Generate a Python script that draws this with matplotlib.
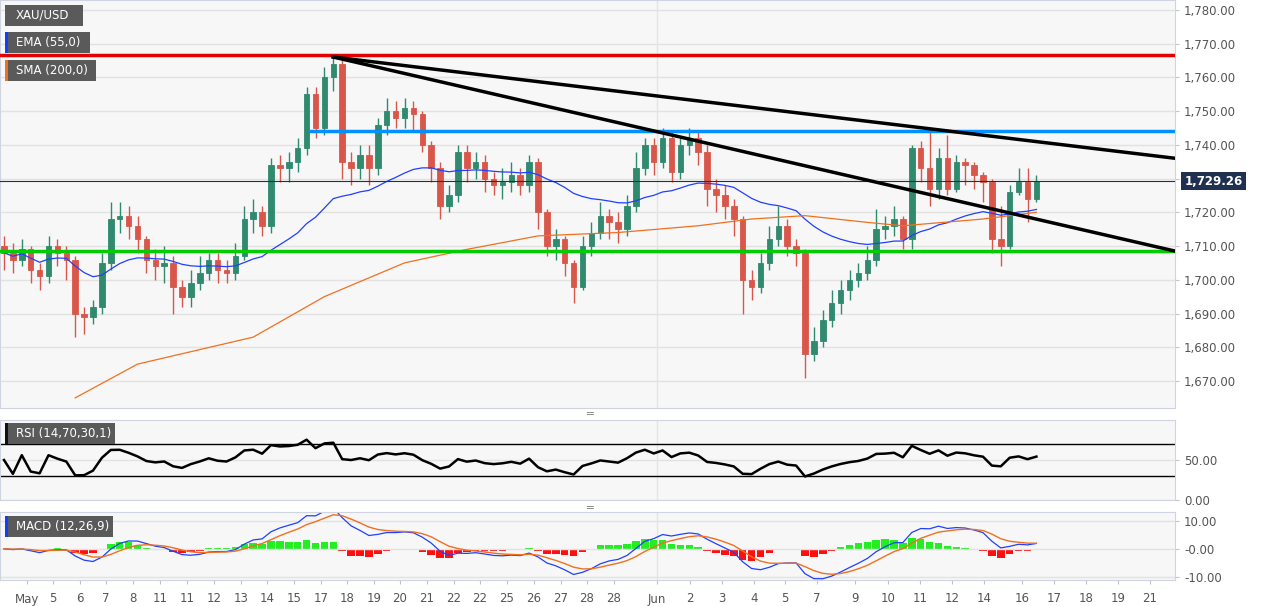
import matplotlib
matplotlib.use("Agg")
import matplotlib.pyplot as plt
import numpy as np
import pandas as pd
from matplotlib.ticker import FuncFormatter

first_open = 1710
closes = [1708,1706,1709,1703,1701,1710,1708,1706,1690,1689,1692,1705,1718,1719,1716,1712,1706,1704,1705,1698,
          1695,1699,1702,1706,1703,1702,1707,1718,1720,1716,1734,1733,1735,1739,1755,1745,1760,1764,1735,1733,
          1737,1733,1746,1750,1748,1751,1749,1740,1733,1722,1725,1738,1733,1735,1730,1728,1729,1731,1728,1735,
          1720,1710,1712,1705,1698,1710,1714,1719,1717,1715,1722,1733,1740,1735,1742,1732,1740,1742,1738,1727,
          1725,1722,1718,1700,1698,1705,1712,1716,1710,1708,1678,1682,1688,1693,1697,1700,1702,1706,1715,1716,
          1718,1712,1739,1733,1727,1736,1727,1735,1734,1731,1729,1712,1710,1726,1729,1724,1729.26]
highs = [1713,1711,1712,1710,1705,1713,1712,1710,1707,1692,1694,1708,1723,1723,1722,1719,1713,1709,1710,1707,
         1700,1703,1707,1708,1708,1706,1711,1722,1724,1722,1736,1737,1738,1742,1757,1757,1763,1766,1765,1738,
         1740,1740,1748,1754,1753,1754,1753,1750,1741,1735,1728,1740,1740,1738,1737,1732,1733,1735,1733,1737,
         1736,1721,1715,1713,1706,1713,1717,1723,1721,1720,1725,1738,1742,1742,1745,1744,1742,1745,1744,1740,
         1730,1728,1724,1719,1703,1708,1716,1722,1718,1712,1709,1686,1691,1697,1700,1703,1705,1710,1721,1719,
         1722,1719,1740,1741,1744,1739,1743,1737,1736,1735,1732,1730,1722,1728,1733,1733,1731]
lows = [1703,1702,1704,1699,1697,1699,1704,1700,1683,1684,1687,1690,1703,1714,1712,1708,1702,1700,1699,1690,
        1692,1692,1697,1700,1699,1699,1700,1706,1714,1713,1714,1729,1729,1732,1737,1742,1743,1756,1730,1728,
        1730,1728,1731,1743,1745,1745,1744,1738,1729,1718,1720,1723,1729,1730,1726,1725,1724,1726,1725,1726,
        1715,1707,1706,1701,1693,1697,1707,1712,1712,1711,1713,1720,1731,1731,1733,1729,1730,1737,1734,1722,
        1720,1718,1713,1690,1694,1696,1703,1710,1707,1704,1671,1676,1680,1686,1690,1694,1698,1700,1704,1712,
        1713,1709,1709,1729,1722,1724,1725,1726,1728,1727,1723,1708,1704,1709,1725,1717,1723]
sma_idx = [8, 15, 28, 36, 45, 52, 60, 69, 78, 84, 90, 97, 101, 110, 116]
sma_vals = [1665, 1675, 1683, 1695, 1705, 1709, 1713, 1714, 1716, 1718, 1719, 1717, 1716, 1718, 1720]
xtick_labels = ["May","5","6","7","8","11","11","12","13","14","15","17","18","19","20","21","22","22","25","26",
                "27","28","28","Jun","2","3","4","5","7","9","10","11","12","14","16","17","18","19","21"]
xtick_px = [27,53,80,106,133,160,187,214,241,267,294,321,347,374,400,427,454,480,507,534,561,587,614,
            657,690,722,754,785,817,855,888,920,952,984,1022,1054,1086,1118,1150]
price_levels = {"resistance": 1766.5, "mid": 1744.2, "support": 1708.5}
last_price = 1729.26

W, H = 1269, 606
SP, X0 = 8.9, 4.0
def px2i(p): return (p - X0) / SP

closes = np.array(closes, float)
opens = np.concatenate([[first_open], closes[:-1]])
idx = np.arange(len(closes))
s = pd.Series(closes)
ema = s.ewm(span=33, adjust=True).mean()
d = s.diff().fillna(0)
up = d.clip(lower=0).ewm(alpha=1/9, adjust=True).mean() + 1.0
dn = (-d.clip(upper=0)).ewm(alpha=1/9, adjust=True).mean() + 1.0
rsi = 100 - 100/(1+up/dn)
macd = s.ewm(span=7, adjust=False).mean() - s.ewm(span=16, adjust=False).mean()
sig = macd.ewm(span=5, adjust=False).mean()
hist = macd - sig

fig = plt.figure(figsize=(W/100, H/100), dpi=100, facecolor="white")
def ax_at(top, bottom):
    return fig.add_axes([0, 1-bottom/H, 1175/W, (bottom-top)/H])
ax = ax_at(0, 408)
ax_r = ax_at(420, 500)
ax_m = ax_at(512, 580)
xl = (px2i(0), px2i(1175))
jun_i = px2i(657)
for a in (ax, ax_r, ax_m):
    a.set_facecolor("#f7f7f7")
    a.set_xlim(*xl)
    a.yaxis.tick_right()
    for sp in a.spines.values():
        sp.set_color("#d0d4e0")
    a.tick_params(axis="y", colors="#555555", labelsize=8.5, length=3, color="#c0c4d0")
    a.tick_params(axis="x", length=0)
    a.set_xticks([])
    a.axvline(jun_i, color="#e4e4e4", lw=1, zorder=0)

# main
ax.set_ylim(1662, 1782.9)
yt = np.arange(1670, 1781, 10)
ax.set_yticks(yt)
ax.yaxis.set_major_formatter(FuncFormatter(lambda v, p: "" if abs(v-1730) < 1 else f"{v:,.2f}"))
ax.grid(axis="y", color="#e2e2e2", lw=1)
ax.set_axisbelow(True)
green, red = "#2f8a6e", "#d9574a"
for i in idx:
    c = green if closes[i] >= opens[i] else red
    ax.vlines(i, lows[i], highs[i], color=c, lw=1, zorder=3)
    lo, hi = sorted([opens[i], closes[i]])
    ax.bar(i, max(hi-lo, 0.3), bottom=lo, width=0.62, color=c, edgecolor=c, lw=0.6, zorder=4)
ax.plot(idx, ema, color="#2040ff", lw=0.9, zorder=5)
ax.plot(sma_idx, sma_vals, color="#f07020", lw=0.9, zorder=5)
ax.axhline(price_levels["resistance"], color="#e00000", lw=2.5, zorder=6)
ax.axhline(price_levels["support"], color="#00cc00", lw=2.5, zorder=6)
ax.plot([px2i(310), xl[1]], [price_levels["mid"]]*2, color="#0090ff", lw=2.5, zorder=6)
ax.axhline(last_price, color="#1f2f55", lw=0.8, zorder=6)
ax.plot([37, xl[1]], [1766, 1736], color="black", lw=2.5, zorder=7)
ax.plot([37, xl[1]], [1766, 1708.5], color="black", lw=2.5, zorder=7)
ax.text(1.008, last_price, f"{last_price:,.2f}", transform=ax.get_yaxis_transform(), color="white",
        fontsize=8.5, fontweight="bold", va="center", ha="left",
        bbox=dict(boxstyle="square,pad=0.25", fc="#1f3050", ec="none"), clip_on=False)

# rsi
ax_r.set_ylim(0, 100)
ax_r.set_yticks([0, 50])
ax_r.yaxis.set_major_formatter(FuncFormatter(lambda v, p: f"{v:.2f}"))
ax_r.grid(axis="y", color="#e2e2e2", lw=1)
ax_r.axhline(70, color="black", lw=1)
ax_r.axhline(30, color="black", lw=1)
ax_r.plot(idx, rsi, color="black", lw=1.8)

# macd
ax_m.set_ylim(-11, 13)
ax_m.set_yticks([-10, 0, 10])
ax_m.yaxis.set_major_formatter(FuncFormatter(lambda v, p: "-0.00" if v == 0 else f"{v:.2f}"))
ax_m.grid(axis="y", color="#e2e2e2", lw=1)
ax_m.bar(idx, hist, width=0.85, color=np.where(hist >= 0, "#22ee22", "#ff1010"))
ax_m.plot(idx, macd, color="#2040ff", lw=0.9)
ax_m.plot(idx, sig, color="#f07020", lw=1.0)
ax_m.set_xticks([px2i(p) for p in xtick_px])
ax_m.set_xticklabels(xtick_labels, fontsize=8.5, color="#555555")
ax_m.tick_params(axis="x", length=3, color="#c0c4d0", pad=6)

def label_box(y, x1, text, strip):
    fig.patches.append(plt.Rectangle((5/W, 1-(y+21)/H), (x1-5)/W, 21/H, transform=fig.transFigure,
                                     fc="#5a5a5a", ec="none", zorder=10))
    if strip:
        fig.patches.append(plt.Rectangle((5/W, 1-(y+21)/H), 3/W, 21/H, transform=fig.transFigure,
                                         fc=strip, ec="none", zorder=11))
    fig.text(16/W, 1-(y+10.5)/H, text, color="white", fontsize=8.5, va="center", zorder=12)

label_box(5, 83, "XAU/USD", None)
label_box(32, 90, "EMA (55,0)", "#1040ff")
label_box(60, 96, "SMA (200,0)", "#f07020")
label_box(423, 115, "RSI (14,70,30,1)", "#111111")
label_box(516, 113, "MACD (12,26,9)", "#1040ff")
for y in (413, 507):
    fig.text(590/W, 1-y/H, "═", fontsize=8, color="#888888", ha="center", va="center")

fig.savefig("out.png", dpi=100, facecolor="white")
